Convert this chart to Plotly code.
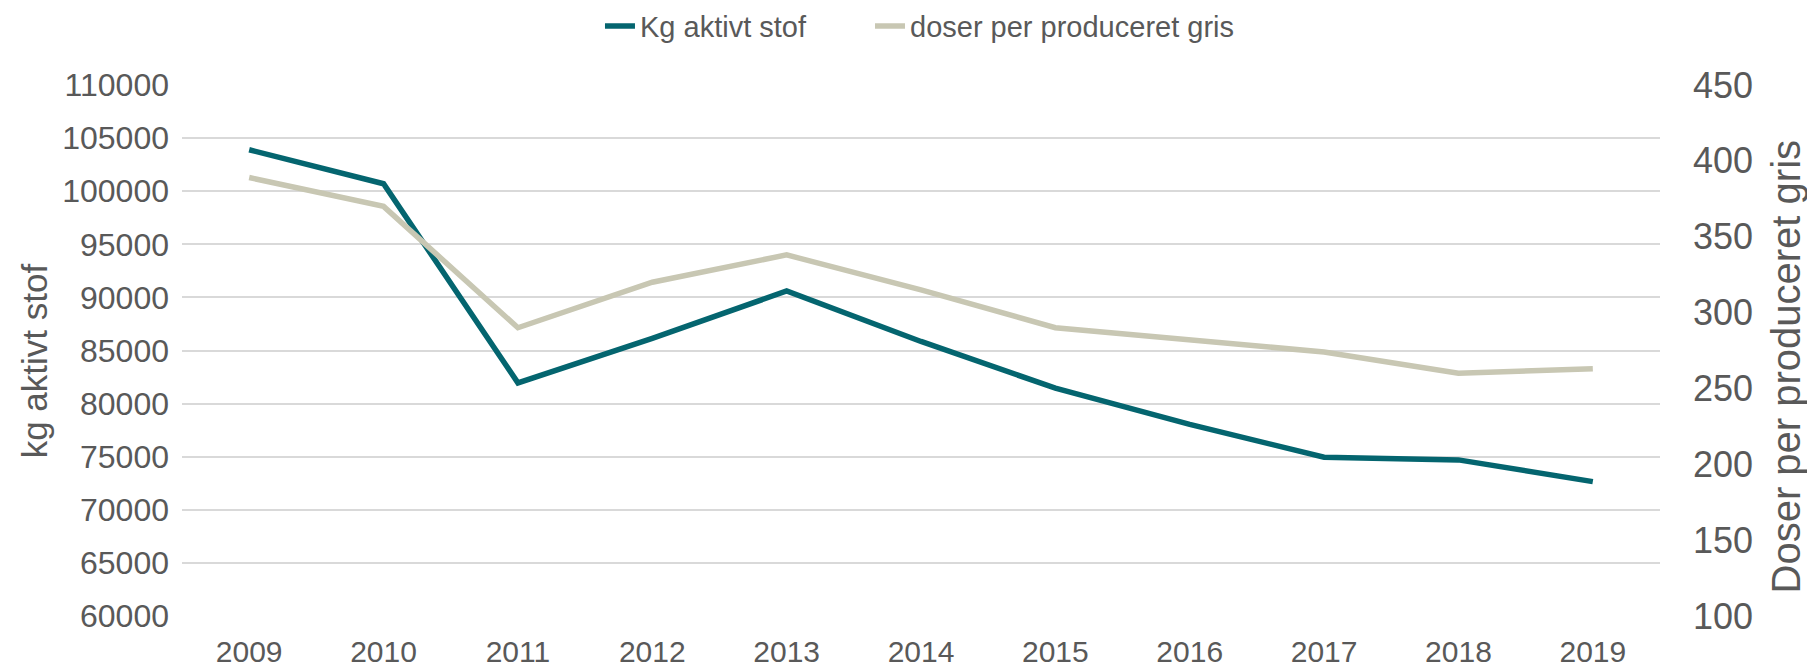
import plotly.graph_objects as go

years = ["2009", "2010", "2011", "2012", "2013", "2014", "2015", "2016", "2017", "2018", "2019"]
kg_aktivt_stof = [103900, 100700, 81950, 86150, 90600, 85850, 81450, 78050, 74950, 74700, 72650]
doser_per_gris = [389, 370, 290, 320, 338, 315, 290, 282, 274, 260, 263]

left_ticks = list(range(60000, 110001, 5000))
right_ticks = list(range(100, 451, 50))

FONT = "Arial, 'Liberation Sans', sans-serif"
GRAY = "#595959"
TEAL = "#04656F"
BEIGE = "#C8C7B3"

fig = go.Figure()
fig.add_trace(go.Scatter(x=years, y=kg_aktivt_stof, name="Kg aktivt stof", mode="lines",
                         line=dict(color=TEAL, width=5.5), yaxis="y", legend="legend"))
fig.add_trace(go.Scatter(x=years, y=doser_per_gris, name="doser per produceret gris", mode="lines",
                         line=dict(color=BEIGE, width=5.5), yaxis="y2", legend="legend2"))

legend_common = dict(orientation="h", xanchor="left", y=1.111, yanchor="middle",
                     font=dict(size=29, color=GRAY), bgcolor="rgba(0,0,0,0)")

fig.update_layout(
    width=1807, height=671,
    margin=dict(l=182, r=147, t=85, b=55, autoexpand=False),
    paper_bgcolor="white", plot_bgcolor="white",
    font=dict(family=FONT, color=GRAY),
    showlegend=True,
    legend=dict(x=0.2828, **legend_common),
    legend2=dict(x=0.4655, **legend_common),
    xaxis=dict(type="category", range=[-0.5, 10.5], showgrid=False, zeroline=False,
               showline=False, ticks="", tickfont=dict(size=30, color=GRAY),
               ticklabelstandoff=15),
    yaxis=dict(range=[60000, 110000], tickvals=left_ticks, ticktext=[str(v) for v in left_ticks],
               showgrid=True, gridcolor="#D9D9D9", gridwidth=2, zeroline=False, showline=False,
               ticks="", tickfont=dict(size=32, color=GRAY), ticklabelstandoff=12),
    yaxis2=dict(range=[100, 450], tickvals=right_ticks, ticktext=[str(v) for v in right_ticks],
                overlaying="y", side="right", showgrid=False, zeroline=False, showline=False,
                ticks="", tickfont=dict(size=36, color=GRAY), ticklabelstandoff=32),
    annotations=[
        dict(text="kg aktivt stof", xref="paper", yref="paper", x=-0.1, y=0.48,
             textangle=-90, showarrow=False, font=dict(size=35, color=GRAY),
             xanchor="center", yanchor="middle"),
        dict(text="Doser per produceret gris", xref="paper", yref="paper", x=1.0853, y=0.47,
             textangle=-90, showarrow=False, font=dict(size=40, color=GRAY),
             xanchor="center", yanchor="middle"),
    ],
)

fig.write_html("out.html", config={"displayModeBar": False},
               post_script="document.body.style.margin='0';document.body.style.overflow='hidden';")
